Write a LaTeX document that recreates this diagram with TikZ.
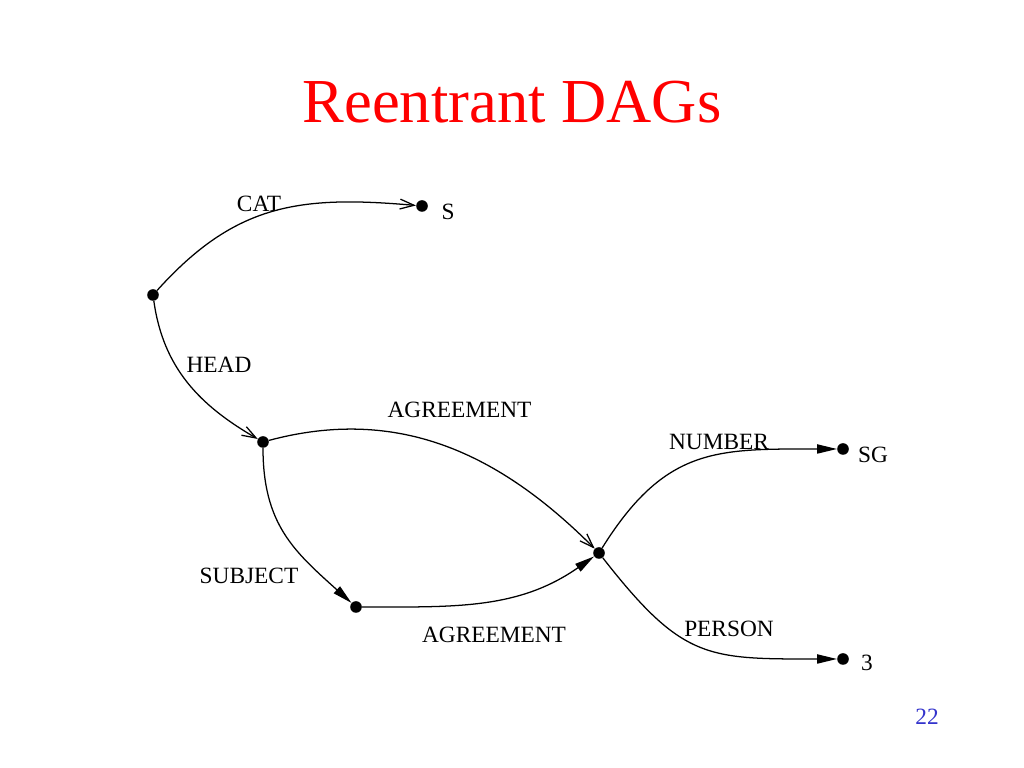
\documentclass[tikz,border=0pt]{standalone}
\usepackage{fontspec}
\setmainfont{Liberation Serif}
\usetikzlibrary{arrows.meta}
\definecolor{pagenum}{RGB}{51,51,204}

\begin{document}
\begin{tikzpicture}[dot/.style={circle, fill=black, inner sep=0pt, minimum size=0.29cm},
  lbl/.style={anchor=base, inner sep=0pt, font=\fontsize{16.6}{18}\selectfont},
  openarr/.style={-{Straight Barb[length=10pt,width=7pt]}, line width=0.9pt},
  fillarr/.style={-{Triangle[length=14pt,width=6.5pt]}, line width=0.9pt}]
\useasboundingbox[fill=white] (0,0) rectangle (25.6,19.2);
\node[anchor=base, inner sep=0pt, red, font=\fontsize{44.5}{50}\selectfont] (title) at (12.8,16.125) {Reentrant DAGs};

\node[dot] (root) at (3.825,11.825) {};
\node[dot] (s) at (10.55,14.05) {};
\node[dot] (head) at (6.575,8.15) {};
\node[dot] (agr) at (14.975,5.375) {};
\node[dot] (subj) at (8.9,4.025) {};
\node[dot] (sg) at (21.075,7.975) {};
\node[dot] (three) at (21.075,2.725) {};

\node[lbl] (vs) at (11.2,13.7) {S};
\node[lbl] (vsg) at (21.825,7.625) {SG};
\node[lbl] (vthree) at (21.675,2.425) {3};

\node[lbl] (lcat) at (6.475,13.9) {CAT};
\node[lbl] (lhead) at (5.475,9.875) {HEAD};
\node[lbl] (lagrtop) at (11.4875,8.75) {AGREEMENT};
\node[lbl] (lsubj) at (6.225,4.6) {SUBJECT};
\node[lbl] (lagrbot) at (12.35,3.125) {AGREEMENT};
\node[lbl] (lnum) at (17.975,7.95) {NUMBER};
\node[lbl] (lpers) at (18.225,3.275) {PERSON};

\draw[openarr] (root) to[out=48,in=175,looseness=1.1] (s);
\draw[openarr] (root) to[out=-82,in=150] (head);
\draw[openarr] (head) to[out=15,in=135] (agr);
\draw[fillarr] (head) to[out=-90,in=138,looseness=1.1] (subj);
\draw[fillarr] (subj) to[out=0,in=-145] (agr);
\draw[fillarr] (agr) to[out=58,in=180,looseness=1.2] (sg);
\draw[fillarr] (agr) to[out=-52,in=180,looseness=1.3] (three);

\node[lbl, text=pagenum] (pnum) at (23.175,1.075) {22};
\end{tikzpicture}
\end{document}
